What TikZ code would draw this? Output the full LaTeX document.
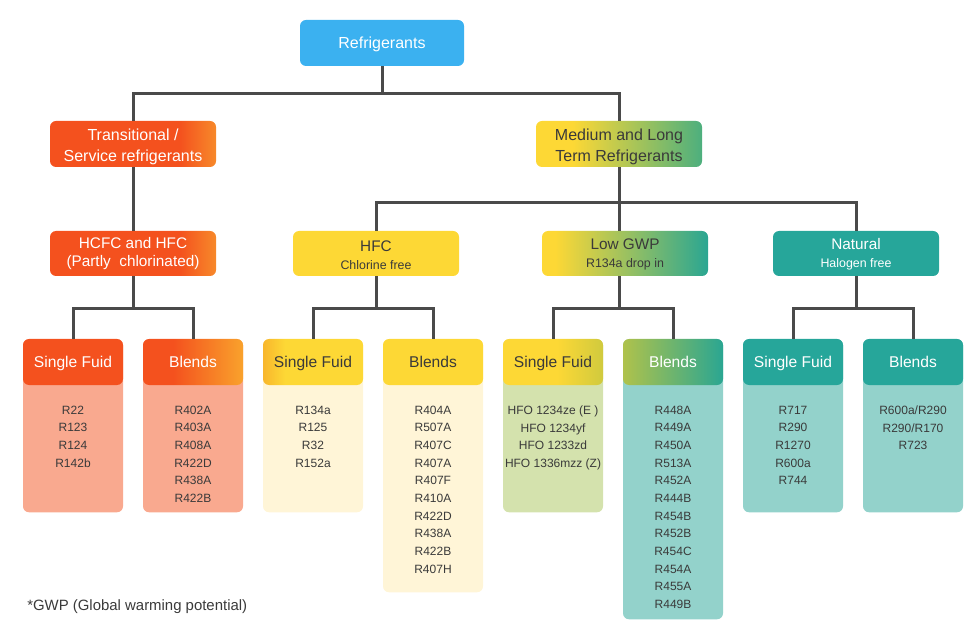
\documentclass[tikz,border=0pt]{standalone}
\usepackage{fontspec}
\setmainfont{Liberation Sans}

% palette
\definecolor{topblue}{HTML}{3BB1F0}
\definecolor{odeep}{HTML}{F4511E}
\definecolor{oend}{HTML}{F7892A}
\definecolor{olight}{HTML}{F9A22C}
\definecolor{salmon}{HTML}{F9A98F}
\definecolor{yel}{HTML}{FDD835}
\definecolor{yor}{HTML}{F8B62C}
\definecolor{cream}{HTML}{FFF5D7}
\definecolor{medgreen}{HTML}{4DAF7E}
\definecolor{lowteal}{HTML}{2AA692}
\definecolor{olivey}{HTML}{D0CA3E}
\definecolor{oliveg}{HTML}{AFC24B}
\definecolor{oliveb}{HTML}{D4E2AD}
\definecolor{teal}{HTML}{26A69A}
\definecolor{tealb}{HTML}{93D2CB}
\definecolor{lineg}{HTML}{4A4A4A}
\definecolor{ink}{HTML}{3A3A3A}

% left-to-right colour ramps (25bp..75bp spans the filled shape)
\pgfdeclarehorizontalshading{transgrad}{100bp}{color(0bp)=(odeep); color(64bp)=(odeep); color(75bp)=(oend); color(100bp)=(oend)}
\pgfdeclarehorizontalshading{blendgrad}{100bp}{color(0bp)=(odeep); color(40bp)=(odeep); color(75bp)=(olight); color(100bp)=(olight)}
\pgfdeclarehorizontalshading{hfcsgrad}{100bp}{color(0bp)=(yor); color(25bp)=(yor); color(36bp)=(yel); color(100bp)=(yel)}
\pgfdeclarehorizontalshading{medgrad}{100bp}{color(0bp)=(yel); color(36bp)=(yel); color(75bp)=(medgreen); color(100bp)=(medgreen)}
\pgfdeclarehorizontalshading{lowgrad}{100bp}{color(0bp)=(yel); color(29bp)=(yel); color(75bp)=(lowteal); color(100bp)=(lowteal)}
\pgfdeclarehorizontalshading{lowsgrad}{100bp}{color(0bp)=(yel); color(52bp)=(yel); color(75bp)=(olivey); color(100bp)=(olivey)}
\pgfdeclarehorizontalshading{lowbgrad}{100bp}{color(0bp)=(oliveg); color(25bp)=(oliveg); color(75bp)=(lowteal); color(100bp)=(lowteal)}

\newcommand{\subtitlefont}{\fontsize{9.3}{13.5}\selectfont}
% raises the first line of a two-line box so the pair sits centred
\newcommand{\firstline}{\rule{0pt}{12.5pt}}

\tikzset{
  conn/.style={draw=lineg, line width=2.25pt},
  box/.style={rounded corners=4.5pt, inner sep=0pt, align=center},
  mainbox/.style={box, minimum width=124.5pt, minimum height=34.5pt,
    font=\fontsize{12}{15.5}\selectfont},
  subbox/.style={box, minimum width=124.5pt, minimum height=33.75pt,
    font=\fontsize{11.5}{13.5}\selectfont},
  leafbody/.style={rounded corners=4.5pt, inner sep=0pt, minimum width=75pt, anchor=north},
  leafhead/.style={box, minimum width=75pt, minimum height=34.5pt, text depth=0pt,
    font=\fontsize{11.7}{13.5}\selectfont},
  leafitems/.style={inner sep=0pt, align=center, anchor=north, text=ink,
    font=\fontsize{9}{13.25}\selectfont},
}

% one leaf column: name, x, body height, header style, body colour, title, items
\newcommand{\leafbox}[7]{%
  \node[leafbody, fill=#5, minimum height=#3] (#1b) at (#2,339) {};
  \node[leafhead, #4] (#1) at (#2,362) {#6};
  \node[leafitems] (#1t) at (#2,405.5) {#7};
}

\begin{document}
\begin{tikzpicture}[x=0.75pt, y=-0.75pt]
\useasboundingbox (0,0) rectangle (980,630);

% top and first level
\node[mainbox, fill=topblue, text=white, minimum width=123pt, text depth=0pt] (top) at (382,43) {Refrigerants};
\node[mainbox, shade, shading=transgrad, text=white] (trans) at (133,144) {\firstline Transitional /\\Service refrigerants};
\node[mainbox, shade, shading=medgrad, text=ink] (med) at (619,144) {\firstline Medium and Long\\Term Refrigerants};

% second level
\node[subbox, shade, shading=transgrad, text=white] (hcfc) at (133,253.5) {HCFC and HFC\\(Partly\ \ chlorinated)};
\node[subbox, fill=yel, text=ink] (hfc) at (376,253.5) {\rule{0pt}{10pt}HFC\\{\subtitlefont Chlorine free}};
\node[subbox, shade, shading=lowgrad, text=ink] (low) at (625,253.5) {\rule{0pt}{10pt}Low GWP\\{\subtitlefont R134a drop in}};
\node[subbox, fill=teal, text=white] (nat) at (856,253.5) {\rule{0pt}{10pt}Natural\\{\subtitlefont Halogen free}};

% leaf columns
\leafbox{sa}{73}{129.75pt}{fill=odeep, text=white}{salmon}{Single Fuid}{R22\\R123\\R124\\R142b}
\leafbox{ba}{193}{129.75pt}{shade, shading=blendgrad, text=white}{salmon}{Blends}{R402A\\R403A\\R408A\\R422D\\R438A\\R422B}
\leafbox{sb}{313}{129.75pt}{shade, shading=hfcsgrad, text=ink}{cream}{Single Fuid}{R134a\\R125\\R32\\R152a}
\leafbox{bb}{433}{189.75pt}{fill=yel, text=ink}{cream}{Blends}{R404A\\R507A\\R407C\\R407A\\R407F\\R410A\\R422D\\R438A\\R422B\\R407H}
\leafbox{sc}{553}{129.75pt}{shade, shading=lowsgrad, text=ink}{oliveb}{Single Fuid}{HFO 1234ze (E )\\HFO 1234yf\\HFO 1233zd\\HFO 1336mzz (Z)}
\leafbox{bc}{673}{210pt}{shade, shading=lowbgrad, text=white}{tealb}{Blends}{R448A\\R449A\\R450A\\R513A\\R452A\\R444B\\R454B\\R452B\\R454C\\R454A\\R455A\\R449B}
\leafbox{sd}{793}{129.75pt}{fill=teal, text=white}{tealb}{Single Fuid}{R717\\R290\\R1270\\R600a\\R744}
\leafbox{bd}{913}{129.75pt}{fill=teal, text=white}{tealb}{Blends}{R600a/R290\\R290/R170\\R723}

% junctions
\coordinate (j0) at (382,94);
\coordinate (j1) at (619,203);
\coordinate (ka) at (133,309);
\coordinate (kb) at (376,309);
\coordinate (kc) at (619,309);
\coordinate (kd) at (856,309);

% connectors
\draw[conn] (top.south) -- (j0);
\draw[conn] (trans.north) |- (j0) -| (med.north);
\draw[conn] (trans.south) -- (hcfc.north);
\draw[conn] (med.south) -- (j1);
\draw[conn] (hfc.north) |- (j1) -| (nat.north);
\draw[conn] (j1) -- (j1 |- low.north);

\draw[conn] (hcfc.south) -- (ka);
\draw[conn] (sa.north) |- (ka) -| (ba.north);
\draw[conn] (hfc.south) -- (kb);
\draw[conn] (sb.north) |- (kb) -| (bb.north);
\draw[conn] (kc |- low.south) -- (kc);
\draw[conn] (sc.north) |- (kc) -| (bc.north);
\draw[conn] (nat.south) -- (kd);
\draw[conn] (sd.north) |- (kd) -| (bd.north);

% footnote
\node[anchor=west, inner sep=0pt, text=ink, font=\fontsize{11.2}{13}\selectfont] (note) at (27,607) {*GWP (Global warming potential)};
\end{tikzpicture}
\end{document}
